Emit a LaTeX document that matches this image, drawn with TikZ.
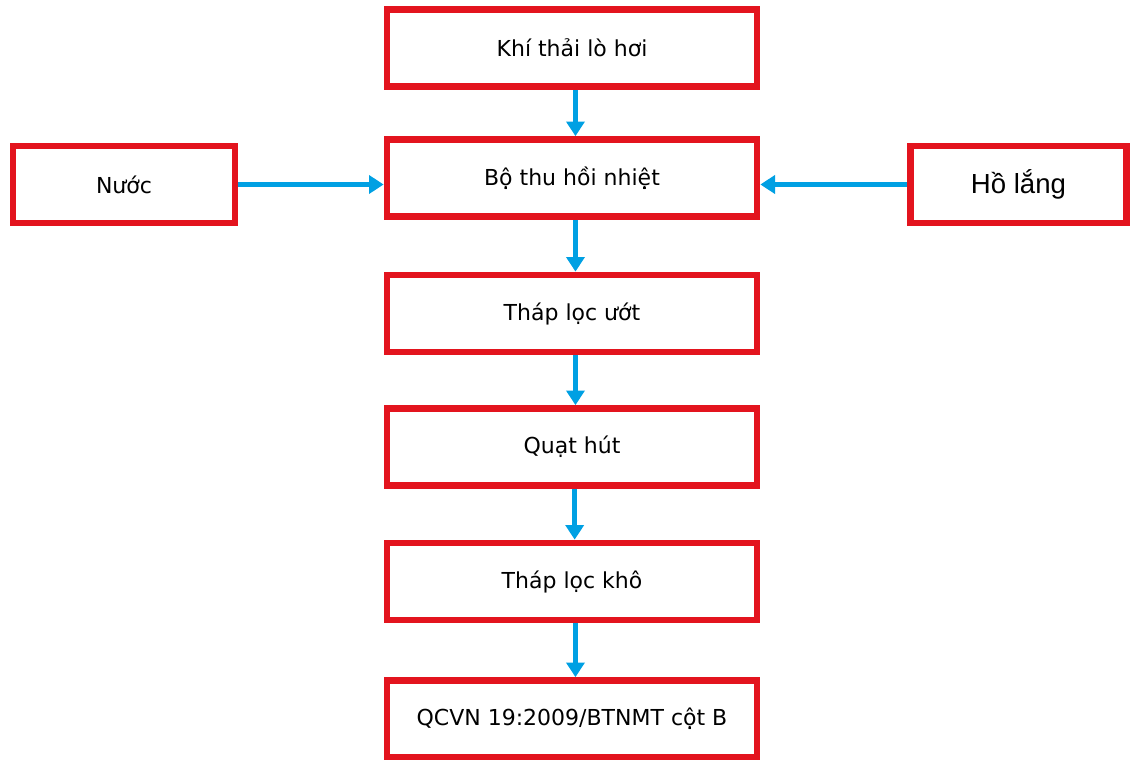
\documentclass[tikz,border=0pt]{standalone}
\usepackage{fontspec}
\setmainfont{DejaVu Sans}
\newfontfamily\holang{Liberation Sans}
\usepackage{tikz}
\usetikzlibrary{arrows.meta}
\definecolor{boxred}{RGB}{227,20,30}
\definecolor{flowblue}{RGB}{0,160,227}

\begin{document}
\begin{tikzpicture}[x=0.75pt,y=0.75pt,yscale=-1,xscale=1,
  box/.style={draw=boxred,line width=5pt,fill=white,inner sep=0pt,minimum width=277.5pt,minimum height=57.75pt,font=\fontsize{16.5}{20}\selectfont},
  flow/.style={draw=flowblue,line width=3.5pt,-{Triangle[width=13.5pt,length=11pt]}}]
%set diagram left start at 0, and has size 1135 x 760
\useasboundingbox (0,0) rectangle (1135,760);

%Shape: Rectangle [id:khi]
\draw (572,48) node [box] (khi) {Khí thải lò hơi};
%Shape: Rectangle [id:bo]
\draw (572,178) node [box] (bo) {Bộ thu hồi nhiệt};
%Shape: Rectangle [id:nuoc]
\draw (124,184.5) node [box,minimum width=166.5pt] (nuoc) {Nước};
%Shape: Rectangle [id:ho]
\draw (1018.5,184.5) node [box,minimum width=162pt,font=\holang\fontsize{20.7}{24}\selectfont] (ho) {Hồ lắng};
%Shape: Rectangle [id:uot]
\draw (572,313.5) node [box] (uot) {Tháp lọc ướt};
%Shape: Rectangle [id:quat]
\draw (572,447) node [box] (quat) {Quạt hút};
%Shape: Rectangle [id:kho]
\draw (572,581.5) node [box] (kho) {Tháp lọc khô};
%Shape: Rectangle [id:qcvn]
\draw (572,719) node [box] (qcvn) {QCVN 19:2009/BTNMT cột B};

%Straight Lines [id:arrows]
\draw [flow] ([xshift=2.6pt]khi.south) -- ([xshift=2.6pt]bo.north) ;
\draw [flow] (nuoc.east) -- (nuoc.east -| bo.west) ;
\draw [flow] (ho.west) -- (ho.west -| bo.east) ;
\draw [flow] ([xshift=2.6pt]bo.south) -- ([xshift=2.6pt]uot.north) ;
\draw [flow] ([xshift=2.6pt]uot.south) -- ([xshift=2.6pt]quat.north) ;
\draw [flow] ([xshift=2pt]quat.south) -- ([xshift=2pt]kho.north) ;
\draw [flow] ([xshift=2.6pt]kho.south) -- ([xshift=2.6pt]qcvn.north) ;

\end{tikzpicture}
\end{document}
